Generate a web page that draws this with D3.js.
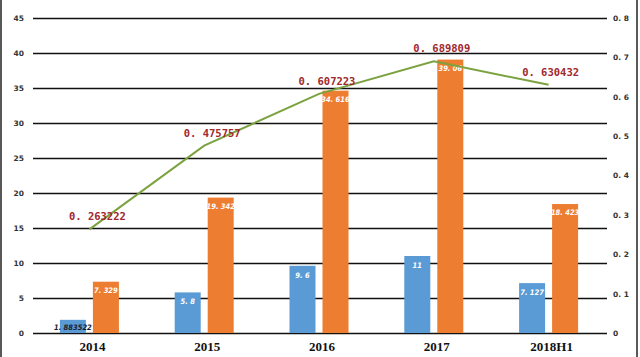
<!DOCTYPE html>
<html><head><meta charset="utf-8">
<script src="https://cdn.jsdelivr.net/npm/d3@7"></script>
<style>body{margin:0;background:#fff}svg{display:block}</style>
</head><body>
<svg id="c" width="640" height="357"></svg>
<script>
const categories = ["2014","2015","2016","2017","2018H1"];
const blueValues = [1.883522, 5.8, 9.6, 11, 7.127];
const orangeValues = [7.329, 19.342, 34.616, 39.06, 18.423];
const lineValues = [0.263222, 0.475757, 0.607223, 0.689809, 0.630432];
const leftTicks = [0,5,10,15,20,25,30,35,40,45];
const rightTicks = [0,0.1,0.2,0.3,0.4,0.5,0.6,0.7,0.8];

const svg = d3.select("#c");
const x = d3.scaleBand().domain(categories).range([33, 607]);
const yL = d3.scaleLinear().domain([0,45]).range([333,18]);
const yR = d3.scaleLinear().domain([0,0.8]).range([333,18]);
const fmt = v => { const s = String(v); return s.includes(".") ? s.replace(".", ". ") : s; };
const cx = c => x(c) + x.bandwidth()/2 - 1;

// frame
svg.append("rect").attr("x",1).attr("y",-2).attr("width",636).attr("height",360)
  .attr("fill","none").attr("stroke","#222").attr("stroke-width",1.5);

// gridlines + left axis
const gl = d3.axisLeft(yL).tickValues(leftTicks).tickSize(-574).tickFormat(d=>d);
const gL = svg.append("g").attr("transform","translate(33,0)").call(gl);
gL.select(".domain").remove();
gL.selectAll(".tick line").attr("stroke","#111").attr("stroke-width",1.3);
gL.selectAll(".tick text").attr("x",-9).attr("font-family","DejaVu Sans").attr("font-weight","bold")
  .attr("font-size",7.5).attr("fill","#333");

// right axis labels
const ar = d3.axisRight(yR).tickValues(rightTicks).tickSize(0).tickFormat(d=>d===0?"0":fmt(d3.format(".1f")(d)));
const gR = svg.append("g").attr("transform","translate(607,0)").call(ar);
gR.select(".domain").remove();
gR.selectAll(".tick text").attr("x",6).attr("font-family","DejaVu Sans").attr("font-weight","bold")
  .attr("font-size",7.5).attr("fill","#333");

// bars
const bw = 26;
svg.append("g").selectAll("rect").data(categories).join("rect")
  .attr("x",(c)=>cx(c)-29.5).attr("width",bw)
  .attr("y",(c,i)=>yL(blueValues[i])).attr("height",(c,i)=>yL(0)-yL(blueValues[i]))
  .attr("fill","#5b9bd5");
svg.append("g").selectAll("rect").data(categories).join("rect")
  .attr("x",(c)=>cx(c)+3.5).attr("width",bw)
  .attr("y",(c,i)=>yL(orangeValues[i])).attr("height",(c,i)=>yL(0)-yL(orangeValues[i]))
  .attr("fill","#ed7d31");

// bar labels
svg.append("g").selectAll("text").data(categories).join("text")
  .attr("x",c=>cx(c)-16.5).attr("y",(c,i)=>i===0?yL(blueValues[i])+10:yL(blueValues[i])+12)
  .attr("text-anchor","middle").attr("font-family","DejaVu Sans Condensed").attr("font-style","italic")
  .attr("font-weight","bold").attr("font-size",7.5)
  .attr("fill",(c,i)=>i===0?"#1a1a2a":"#fff").text((c,i)=>fmt(blueValues[i]));
svg.append("g").selectAll("text").data(categories).join("text")
  .attr("x",c=>cx(c)+16.5).attr("y",(c,i)=>yL(orangeValues[i])+11)
  .attr("text-anchor","middle").attr("font-family","DejaVu Sans Condensed").attr("font-style","italic")
  .attr("font-weight","bold").attr("font-size",7.5)
  .attr("fill","#fff").text((c,i)=>fmt(orangeValues[i]));

// line
const line = d3.line().x((d,i)=>cx(categories[i])).y(d=>yR(d));
svg.append("path").datum(lineValues).attr("d",line).attr("fill","none")
  .attr("stroke","#7ba23f").attr("stroke-width",2);

// line labels
svg.append("g").selectAll("text").data(lineValues).join("text")
  .attr("x",(d,i)=>cx(categories[i])+(i===4?2:8)).attr("y",d=>yR(d)-9)
  .attr("text-anchor","middle").attr("font-family","DejaVu Sans Mono").attr("font-weight","bold")
  .attr("font-size",10.5).attr("fill","#a0282e").text(d=>fmt(d));

// category labels
svg.append("g").selectAll("text").data(categories).join("text")
  .attr("x",c=>cx(c)+3).attr("y",351).attr("text-anchor","middle")
  .attr("font-family","Liberation Serif").attr("font-weight","bold").attr("font-size",13)
  .attr("fill","#111").text(d=>d);
</script>
</body></html>
